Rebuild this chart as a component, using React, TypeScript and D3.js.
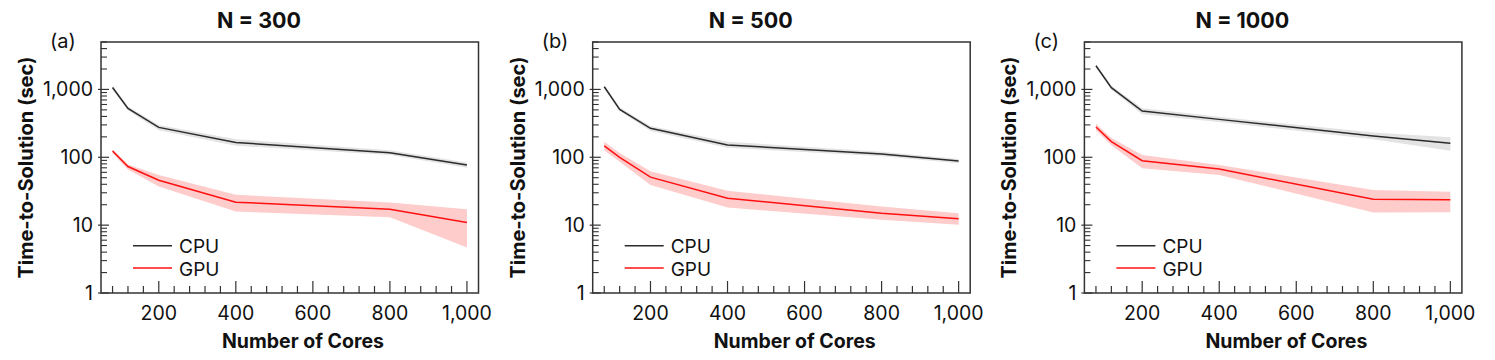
import React from 'react';
import * as d3 from 'd3';

// cores on the x axis
const cores = [80, 120, 200, 400, 800, 1000];

const titles = ['N = 300', 'N = 500', 'N = 1000'];
const tags = ['(a)', '(b)', '(c)'];

// time-to-solution (sec)
const cpuMean = [
  [1070, 526, 276, 165, 117, 77],
  [1096, 508, 267, 152, 112, 88],
  [2233, 1060, 480, 362, 206, 161],
];
const cpuLow = [
  [1000, 490, 250, 148, 108, 70],
  [1030, 480, 245, 138, 104, 82],
  [2100, 990, 430, 330, 185, 125],
];
const cpuHigh = [
  [1140, 560, 300, 185, 127, 84],
  [1160, 540, 290, 170, 121, 94],
  [2380, 1130, 530, 395, 232, 198],
];

const gpuMean = [
  [124, 73, 46, 21.8, 17.2, 10.9],
  [147, 100, 51, 25, 15, 12.4],
  [279, 170, 89, 67, 24.1, 23.6],
];
const gpuLow = [
  [115, 66, 37, 15.9, 13.1, 4.7],
  [126, 86, 39, 18.2, 12, 10.1],
  [250, 150, 69, 55, 15.3, 15.5],
];
const gpuHigh = [
  [131, 78, 55, 28, 21.6, 17.2],
  [170, 116, 62, 32, 18.8, 15],
  [316, 192, 108, 77, 33, 31],
];

const xMajor = [200, 400, 600, 800, 1000];
const yMajor = [1, 10, 100, 1000];

const W = 1495;
const H = 360;
const panelStep = 491.7;
const plotLeft0 = 101;
const plotW = 377.5;
const plotTop = 42;
const plotBottom = 293;
const font = 'Inter, "Noto Sans", sans-serif';

function Panel({ idx }: { idx: number }) {
  const left = plotLeft0 + idx * panelStep;
  const right = left + plotW;
  const x = d3.scaleLinear().domain([50, 1030]).range([left, right]);
  const y = d3.scaleLog().domain([1, 5000]).range([plotBottom, plotTop]);

  const xMinor = d3.range(40, 1030, 40).filter(v => v >= 50 && v % 200 !== 0);
  const yMinor = y.ticks().filter(v => !yMajor.includes(v) && v <= 5000);

  const line = d3.line<number>().x((_, i) => x(cores[i])).y(d => y(d));
  const band = (lo: number[], hi: number[]) =>
    d3.area<number>()
      .x((_, i) => x(cores[i]))
      .y0((_, i) => y(lo[i]))
      .y1((_, i) => y(hi[i]))(cores) || '';

  const fmt = d3.format(',');

  return (
    <g>
      <text x={left + 158} y={28} textAnchor="middle" fontFamily={font}
        fontWeight={700} fontSize={21.5} fill="#111">{titles[idx]}</text>
      <text x={left - 51} y={48} fontFamily={font} fontSize={20} fill="#111">{tags[idx]}</text>

      <path d={band(cpuLow[idx], cpuHigh[idx])} fill="#e3e3e3" />
      <path d={band(gpuLow[idx], gpuHigh[idx])} fill="#ffcccc" />
      <path d={line(cpuMean[idx]) || ''} fill="none" stroke="#2b2b2b" strokeWidth={1.5} />
      <path d={line(gpuMean[idx]) || ''} fill="none" stroke="#ff1010" strokeWidth={1.5} />

      {xMinor.map(v => (
        <line key={'xm' + v} x1={x(v)} x2={x(v)} y1={plotBottom} y2={plotBottom - 7}
          stroke="#333" strokeWidth={1.2} />
      ))}
      {xMajor.map(v => (
        <g key={'xM' + v}>
          <line x1={x(v)} x2={x(v)} y1={plotBottom} y2={plotBottom - 12} stroke="#333" strokeWidth={1.2} />
          <text x={x(v)} y={320} textAnchor="middle" fontFamily={font} fontSize={19.5} fill="#111">{fmt(v)}</text>
        </g>
      ))}
      {yMinor.map(v => (
        <line key={'ym' + v} x1={left} x2={left + 6} y1={y(v)} y2={y(v)}
          stroke="#333" strokeWidth={1.1} />
      ))}
      {yMajor.map(v => (
        <g key={'yM' + v}>
          <line x1={left - 3} x2={left + 8} y1={y(v)} y2={y(v)} stroke="#333" strokeWidth={1.2} />
          <text x={left - 8} y={y(v) + 7} textAnchor="end" fontFamily={font} fontSize={19.5} fill="#111">{fmt(v)}</text>
        </g>
      ))}

      <rect x={left} y={plotTop} width={plotW} height={plotBottom - plotTop}
        fill="none" stroke="#333" strokeWidth={1.5} />

      <g fontFamily={font} fontSize={19} fill="#111">
        <line x1={left + 32} x2={left + 71} y1={245.7} y2={245.7} stroke="#2b2b2b" strokeWidth={1.5} />
        <text x={left + 78} y={253}>CPU</text>
        <line x1={left + 32} x2={left + 71} y1={268} y2={268} stroke="#ff1010" strokeWidth={1.5} />
        <text x={left + 78} y={276}>GPU</text>
      </g>

      <text x={left + 202} y={348} textAnchor="middle" fontFamily={font} fontWeight={700}
        fontSize={19.5} fill="#111">Number of Cores</text>
      <text transform={`translate(${left - 75},${(plotTop + plotBottom) / 2}) rotate(-90)`}
        textAnchor="middle" fontFamily={font} fontWeight={700} fontSize={20} fill="#111"
        dy="0.35em">Time-to-Solution (sec)</text>
    </g>
  );
}

export default function App() {
  return (
    <svg width={W} height={H} style={{ position: 'absolute', left: 0, top: 0, background: '#fff' }}>
      {[0, 1, 2].map(i => <Panel key={i} idx={i} />)}
    </svg>
  );
}
